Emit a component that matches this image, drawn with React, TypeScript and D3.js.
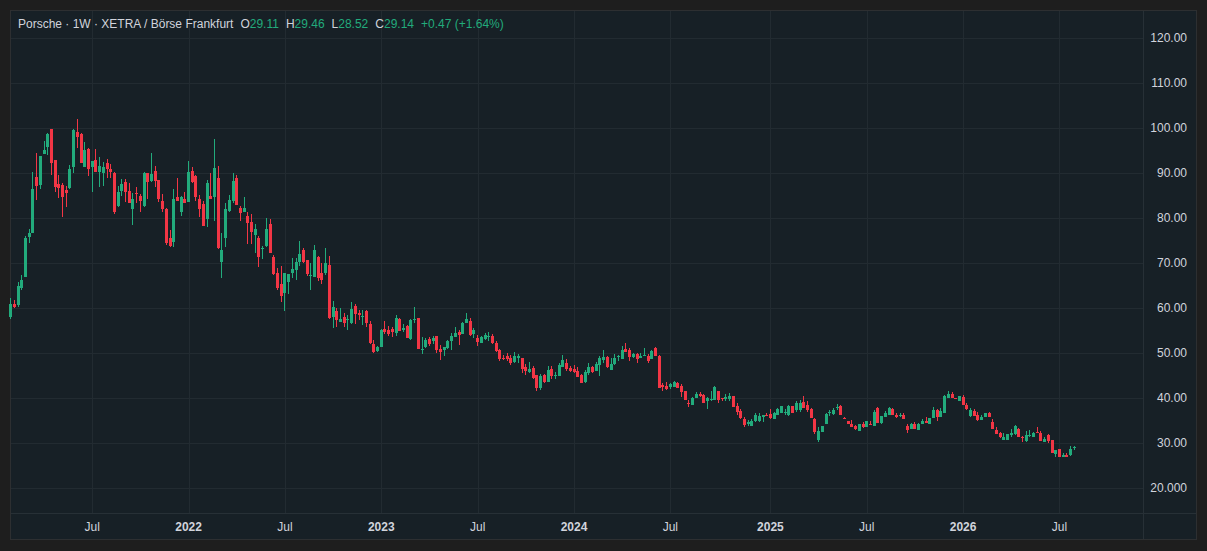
import * as d3 from "d3";

// weekly bars, first bar = week of 1 Feb 2021
const START = new Date(2021, 1, 1);

const OPEN = [
  58.0, 61.0, 60.7, 64.6, 67.0, 75.9, 76.8, 89.2, 87.4, 94.3,
  95.8, 99.9, 93.0, 87.6, 87.4, 86.3, 86.8, 91.3, 99.2, 98.7,
  91.5, 95.4, 91.3, 93.0, 90.4, 90.1, 92.2, 91.0, 90.0, 82.7,
  86.1, 88.1, 86.1, 82.0, 85.6, 85.0, 82.7, 90.0, 88.3, 90.5,
  88.5, 83.9, 82.1, 75.6, 74.8, 84.7, 81.5, 84.2, 83.7, 90.5,
  89.4, 84.3, 83.2, 79.8, 85.0, 84.8, 89.0, 70.4, 75.7, 81.6,
  83.9, 88.9, 82.4, 81.5, 80.5, 79.1, 76.3, 75.7, 73.1, 73.9,
  78.7, 71.5, 67.8, 65.4, 63.3, 65.9, 67.9, 68.5, 70.4, 73.0,
  70.7, 67.3, 67.0, 71.3, 67.9, 67.8, 69.6, 58.0, 59.3, 57.0,
  58.1, 57.3, 56.7, 60.5, 58.9, 58.2, 59.3, 56.5, 52.1, 50.6,
  51.5, 55.4, 55.2, 55.3, 54.6, 57.6, 55.2, 56.1, 53.1, 57.6,
  57.8, 50.7, 51.3, 53.1, 52.7, 53.9, 51.0, 50.7, 51.1, 52.8,
  53.7, 54.8, 54.4, 56.7, 57.2, 54.4, 53.5, 52.4, 53.1, 53.8,
  53.9, 52.4, 50.7, 49.0, 49.3, 48.9, 48.1, 49.0, 48.9, 46.9,
  45.9, 46.7, 45.2, 42.4, 45.2, 43.7, 46.5, 44.9, 45.0, 46.9,
  47.9, 46.8, 46.5, 46.1, 45.2, 43.7, 45.6, 47.0, 46.1, 47.4,
  48.5, 49.1, 46.4, 47.6, 49.1, 48.7, 51.0, 50.7, 49.1, 49.8,
  48.9, 49.5, 49.5, 48.7, 51.1, 49.4, 43.0, 42.8, 42.6, 42.6,
  43.5, 42.7, 41.6, 39.0, 38.5, 40.1, 40.9, 40.7, 39.3, 39.8,
  39.6, 41.6, 40.0, 39.9, 39.9, 40.5, 38.3, 37.2, 35.4, 34.4,
  33.9, 35.0, 35.0, 35.8, 36.3, 36.5, 35.4, 36.3, 36.8, 36.7,
  36.3, 38.3, 37.4, 37.3, 39.1, 38.5, 37.6, 35.4, 30.7, 32.6,
  34.3, 36.7, 36.5, 37.8, 38.3, 35.6, 35.0, 34.3, 33.9, 32.8,
  34.4, 33.7, 34.2, 33.9, 37.8, 34.6, 35.8, 36.4, 37.6, 36.4,
  36.3, 36.4, 33.9, 33.2, 34.3, 33.0, 34.2, 35.0, 34.4, 35.6,
  37.4, 35.9, 36.8, 40.0, 41.0, 40.0, 39.5, 40.2, 38.5, 36.1,
  37.2, 36.3, 35.2, 35.8, 36.8, 34.8, 33.0, 32.4, 30.7, 30.7,
  31.9, 32.0, 33.2, 31.5, 30.5, 31.7, 31.5, 32.6, 32.4, 30.4,
  31.9, 30.7, 27.6, 28.7, 26.9, 27.3, 27.4, 29.11,
];

const HIGH = [
  62.2, 61.9, 65.9, 67.4, 76.1, 77.6, 90.3, 94.6, 93.9, 97.2,
  99.0, 99.9, 93.0, 89.6, 87.9, 87.2, 91.9, 99.8, 102.1, 98.9,
  97.0, 95.6, 92.7, 95.4, 93.6, 92.6, 93.1, 92.1, 90.3, 87.2,
  88.7, 88.7, 87.9, 85.6, 87.0, 85.4, 90.2, 90.0, 94.6, 91.6,
  88.5, 85.4, 82.4, 77.4, 86.5, 88.9, 85.0, 85.9, 92.7, 91.4,
  89.6, 85.2, 83.9, 88.5, 90.1, 97.6, 91.6, 76.7, 83.3, 85.2,
  90.1, 89.6, 82.7, 84.8, 81.3, 81.0, 78.7, 76.1, 73.9, 80.1,
  79.9, 71.9, 69.0, 69.3, 67.8, 67.6, 71.1, 71.1, 75.0, 73.3,
  70.7, 70.0, 74.1, 71.6, 70.1, 73.5, 71.6, 61.6, 60.0, 60.1,
  59.0, 58.5, 61.3, 61.0, 59.6, 59.6, 59.6, 57.2, 53.0, 51.6,
  55.3, 57.2, 56.1, 55.9, 58.5, 57.8, 56.5, 56.3, 57.6, 60.2,
  57.8, 53.6, 53.5, 53.6, 53.9, 53.9, 51.9, 51.5, 53.0, 54.6,
  55.9, 55.2, 56.9, 59.0, 57.8, 55.7, 54.1, 53.9, 54.6, 54.8,
  54.3, 52.8, 51.0, 49.6, 50.1, 49.6, 50.2, 49.9, 48.9, 47.6,
  48.1, 47.2, 45.2, 45.4, 45.4, 47.2, 47.2, 45.9, 47.8, 49.6,
  48.7, 47.2, 47.4, 47.0, 45.4, 46.3, 47.8, 47.2, 48.1, 49.3,
  50.7, 49.3, 48.9, 49.9, 49.6, 51.6, 52.2, 51.1, 50.0, 50.0,
  50.0, 51.1, 49.9, 50.7, 51.3, 49.6, 43.3, 43.7, 43.3, 43.9,
  43.7, 43.2, 41.6, 39.6, 40.4, 41.3, 41.5, 40.9, 40.4, 41.6,
  42.7, 41.6, 40.1, 40.9, 41.1, 40.5, 38.9, 37.6, 35.8, 35.2,
  35.3, 36.8, 36.7, 36.3, 36.8, 37.6, 37.0, 37.8, 38.3, 37.6,
  38.5, 38.3, 39.3, 39.6, 40.5, 39.3, 37.8, 35.6, 33.7, 33.9,
  36.7, 37.4, 37.8, 38.7, 38.5, 35.9, 35.0, 35.2, 34.1, 34.4,
  34.8, 35.0, 35.0, 37.3, 38.1, 36.1, 37.2, 38.1, 37.9, 36.8,
  36.8, 36.7, 34.4, 34.6, 34.7, 34.6, 35.3, 35.8, 35.6, 38.0,
  37.6, 37.8, 40.7, 41.6, 41.3, 40.0, 40.5, 40.7, 38.9, 37.8,
  37.6, 36.9, 36.3, 36.8, 37.0, 35.3, 33.6, 32.6, 32.4, 32.1,
  33.1, 34.1, 33.3, 31.6, 32.7, 33.0, 32.6, 33.6, 32.8, 31.3,
  32.1, 30.7, 28.5, 28.7, 27.8, 27.9, 29.4, 29.46,
];

const LOW = [
  57.6, 60.0, 60.2, 64.1, 67.0, 74.6, 76.8, 84.1, 86.6, 94.3,
  94.1, 89.6, 85.9, 84.6, 80.4, 82.6, 86.5, 90.1, 95.6, 92.2,
  91.3, 89.3, 85.9, 90.4, 87.0, 87.2, 89.0, 88.9, 81.0, 82.6,
  85.0, 83.7, 83.3, 78.5, 83.5, 81.3, 82.6, 84.2, 88.1, 86.9,
  83.6, 81.3, 74.1, 73.6, 73.7, 83.9, 80.5, 83.5, 83.7, 87.8,
  83.9, 80.2, 78.4, 78.0, 84.4, 79.3, 73.1, 66.8, 73.7, 81.3,
  83.5, 83.0, 79.5, 81.3, 74.2, 74.4, 72.2, 69.1, 70.9, 73.6,
  72.2, 67.4, 64.1, 61.5, 59.3, 63.2, 66.7, 66.3, 69.3, 70.1,
  67.2, 64.1, 67.0, 66.1, 65.4, 67.4, 57.6, 55.6, 55.8, 56.9,
  55.9, 55.2, 56.5, 56.5, 57.4, 56.3, 55.8, 52.1, 50.0, 50.2,
  51.5, 54.4, 53.9, 53.7, 53.9, 55.0, 54.7, 53.3, 53.0, 56.7,
  51.0, 49.9, 51.1, 51.6, 52.0, 50.0, 48.5, 49.3, 50.9, 50.7,
  53.7, 51.9, 54.3, 56.7, 53.9, 53.3, 51.6, 52.2, 53.0, 52.8,
  52.1, 50.4, 48.4, 48.5, 48.4, 47.4, 47.9, 47.8, 45.7, 45.2,
  45.6, 44.4, 41.7, 41.9, 43.5, 43.7, 44.4, 44.2, 45.0, 46.9,
  46.1, 45.9, 45.6, 44.8, 43.3, 43.5, 45.2, 45.6, 46.1, 45.0,
  47.8, 46.7, 46.4, 47.4, 48.4, 48.7, 50.4, 48.4, 48.9, 47.8,
  48.9, 49.5, 47.8, 48.7, 49.5, 42.4, 41.7, 41.9, 42.0, 42.6,
  42.2, 40.4, 39.6, 38.1, 38.5, 40.0, 40.4, 39.0, 37.6, 39.4,
  39.6, 39.0, 39.4, 39.5, 39.5, 38.1, 36.4, 35.3, 33.6, 33.9,
  33.9, 34.8, 34.8, 34.8, 36.1, 35.3, 35.4, 36.3, 36.8, 36.3,
  36.1, 36.7, 36.9, 37.0, 37.8, 36.9, 35.7, 32.1, 30.4, 32.6,
  34.3, 36.1, 36.3, 37.3, 36.3, 35.3, 34.2, 33.7, 33.0, 32.8,
  33.3, 33.6, 34.1, 33.9, 34.6, 34.4, 35.8, 36.4, 36.3, 35.6,
  35.9, 35.3, 32.2, 33.2, 33.2, 33.0, 34.2, 34.6, 34.4, 35.6,
  35.0, 35.9, 36.8, 40.0, 40.0, 39.8, 39.5, 38.5, 37.4, 35.8,
  36.1, 35.0, 35.2, 35.8, 35.8, 33.2, 32.1, 31.1, 30.7, 30.7,
  31.5, 31.9, 31.3, 30.4, 30.4, 31.5, 31.5, 32.2, 30.6, 30.4,
  30.1, 27.8, 27.0, 27.0, 26.9, 27.0, 27.2, 28.52,
];

const CLOSE = [
  61.0, 60.2, 65.0, 66.3, 75.6, 76.7, 86.5, 87.2, 93.9, 95.2,
  98.7, 92.4, 87.0, 86.8, 84.8, 85.7, 90.9, 99.6, 98.1, 92.2,
  95.2, 91.0, 92.7, 90.4, 91.6, 91.3, 90.9, 90.4, 81.5, 85.9,
  87.6, 85.9, 83.3, 84.2, 85.5, 83.9, 90.0, 88.1, 89.8, 88.4,
  84.4, 82.0, 74.6, 73.9, 84.2, 83.9, 84.7, 83.5, 90.2, 88.0,
  84.8, 82.0, 78.4, 87.9, 84.4, 91.1, 73.3, 73.0, 82.1, 84.1,
  88.3, 83.0, 81.1, 82.4, 79.0, 77.0, 77.6, 71.3, 73.5, 77.6,
  72.2, 67.6, 64.6, 62.8, 67.8, 67.6, 68.7, 70.2, 72.1, 70.4,
  67.6, 67.4, 73.0, 66.8, 66.4, 70.1, 57.9, 60.4, 57.3, 57.6,
  56.8, 57.6, 59.9, 58.7, 58.6, 58.4, 56.7, 52.2, 50.4, 51.3,
  55.2, 54.7, 54.4, 54.7, 57.9, 55.0, 55.7, 53.5, 57.4, 57.7,
  51.0, 51.0, 53.0, 52.0, 53.3, 50.7, 50.4, 51.3, 52.8, 53.9,
  54.6, 54.1, 56.7, 57.6, 54.1, 55.2, 52.6, 53.7, 54.1, 53.9,
  52.4, 50.6, 48.7, 48.8, 48.7, 47.9, 49.3, 49.3, 46.5, 46.1,
  46.5, 44.6, 42.4, 45.0, 43.7, 46.3, 45.0, 45.1, 47.4, 48.5,
  46.5, 46.1, 45.9, 44.8, 43.5, 45.9, 46.9, 45.9, 47.6, 48.9,
  49.1, 46.9, 47.6, 48.9, 49.3, 50.7, 50.4, 49.1, 49.8, 48.7,
  49.5, 49.6, 48.4, 50.5, 49.5, 42.4, 42.6, 42.1, 43.1, 43.7,
  42.4, 41.3, 39.6, 38.9, 40.1, 41.0, 40.6, 39.0, 40.0, 39.9,
  42.6, 39.6, 39.8, 40.4, 40.5, 38.1, 37.0, 35.7, 34.1, 34.8,
  35.0, 36.3, 36.1, 36.3, 36.1, 35.6, 36.8, 37.6, 38.3, 36.9,
  38.4, 36.7, 38.9, 39.0, 37.9, 37.4, 35.7, 32.6, 32.7, 33.9,
  36.5, 36.9, 37.4, 38.1, 36.3, 35.3, 34.2, 33.7, 33.2, 34.3,
  33.7, 35.0, 34.1, 37.0, 34.6, 36.1, 36.8, 37.8, 36.3, 35.9,
  36.4, 35.3, 33.0, 34.3, 33.2, 34.3, 35.0, 34.6, 35.6, 37.4,
  35.8, 37.2, 40.5, 41.0, 40.0, 39.8, 40.5, 38.5, 37.6, 37.4,
  36.1, 35.2, 35.8, 36.8, 35.8, 33.2, 32.1, 31.3, 31.3, 32.1,
  32.4, 33.9, 31.3, 31.1, 31.9, 31.9, 32.4, 32.4, 30.6, 31.0,
  30.6, 27.8, 28.5, 27.0, 27.4, 27.0, 28.7, 29.14,
];

const PRICE_TICKS = [120, 110, 100, 90, 80, 70, 60, 50, 40, 30, 20];
const PRICE_LABELS = ["120.00", "110.00", "100.00", "90.00", "80.00", "70.00", "60.00", "50.00", "40.00", "30.00", "20.000"];
const MONTH_NAMES = ["Jan", "Feb", "Mar", "Apr", "May", "Jun", "Jul", "Aug", "Sep", "Oct", "Nov", "Dec"];

const TITLE = "Porsche · 1W · XETRA / Börse Frankfurt";
const LAST = { o: "29.11", h: "29.46", l: "28.52", c: "29.14", chg: "+0.47 (+1.64%)" };

const UP = "#22ab7c";
const DOWN = "#f23645";
const TEXT = "#d1d4dc";
const GRID = "#222b31";
const FONT = "'Liberation Sans', Arial, sans-serif";

export default function App() {
  const W = 1207, H = 551;
  const panel = { l: 10, t: 10, r: 1197, b: 540 };
  const plotR = 1143, plotB = 513;

  const dates = OPEN.map((_, i) => d3.timeWeek.offset(START, i));
  const x = d3.scaleTime().domain([dates[0], dates[dates.length - 1]]).range([10.7, 1074.3]);
  const y = d3.scaleLinear().domain([20, 120]).range([488.3, 38.3]);

  // half-year ticks at the first bar of Jan / Jul
  const ticks = dates
    .map((d, i) => ({ d, i }))
    .filter(({ d, i }) => i > 0 && d.getMonth() !== dates[i - 1].getMonth() && (d.getMonth() === 0 || d.getMonth() === 6))
    .map(({ d }) => ({ x: x(d), year: d.getMonth() === 0, label: d.getMonth() === 0 ? String(d.getFullYear()) : MONTH_NAMES[d.getMonth()] }));

  const bars = dates.map((d, i) => {
    const cx = x(d);
    const left = Math.round(cx - 1.5);
    const top = y(Math.max(OPEN[i], CLOSE[i]));
    const bot = y(Math.min(OPEN[i], CLOSE[i]));
    return {
      left,
      top,
      h: Math.max(1, bot - top),
      hi: y(HIGH[i]),
      lo: y(LOW[i]),
      color: CLOSE[i] >= OPEN[i] ? UP : DOWN,
    };
  });

  return (
    <svg width={W} height={H} style={{ position: "absolute", left: 0, top: 0, display: "block" }} fontFamily={FONT}>
      <rect width={W} height={H} fill="#1e1e1e" />
      <rect x={panel.l + 0.5} y={panel.t + 0.5} width={panel.r - panel.l - 1} height={panel.b - panel.t - 1} fill="#172026" stroke="#2d2f31" />

      {/* grid */}
      <g shapeRendering="crispEdges" stroke={GRID}>
        {PRICE_TICKS.map((p) => (
          <line key={p} x1={panel.l + 1} x2={plotR} y1={Math.round(y(p)) + 0.5} y2={Math.round(y(p)) + 0.5} />
        ))}
        {ticks.map((t) => (
          <line key={t.label + t.x} x1={Math.round(t.x) + 0.5} x2={Math.round(t.x) + 0.5} y1={panel.t + 1} y2={plotB} />
        ))}
        <line x1={plotR + 0.5} x2={plotR + 0.5} y1={panel.t + 1} y2={panel.b - 1} stroke="#273036" />
        <line x1={panel.l + 1} x2={panel.r - 1} y1={plotB + 0.5} y2={plotB + 0.5} stroke="#273036" />
      </g>

      {/* candles */}
      <g shapeRendering="crispEdges">
        {bars.map((b, i) => (
          <g key={i} fill={b.color}>
            <rect x={b.left + 1} y={b.hi} width={1} height={Math.max(1, b.lo - b.hi)} />
            <rect x={b.left} y={b.top} width={3} height={b.h} />
          </g>
        ))}
      </g>

      {/* price axis */}
      <g fill={TEXT} fontSize={12} textAnchor="end">
        {PRICE_TICKS.map((p, i) => (
          <text key={p} x={1187} y={y(p) + 4}>{PRICE_LABELS[i]}</text>
        ))}
      </g>

      {/* time axis */}
      <g fill={TEXT} fontSize={12} textAnchor="middle">
        {ticks.map((t) => (
          <text key={t.label + t.x} x={t.x} y={531} fontWeight={t.year ? "bold" : "normal"}>{t.label}</text>
        ))}
      </g>

      {/* legend */}
      <text x={18} y={28} fontSize={12} fill={TEXT}>
        {TITLE}
        <tspan dx={7}>O</tspan><tspan fill={UP}>{LAST.o}</tspan>
        <tspan dx={7}>H</tspan><tspan fill={UP}>{LAST.h}</tspan>
        <tspan dx={7}>L</tspan><tspan fill={UP}>{LAST.l}</tspan>
        <tspan dx={7}>C</tspan><tspan fill={UP}>{LAST.c}</tspan>
        <tspan dx={7} fill={UP}>{LAST.chg}</tspan>
      </text>
    </svg>
  );
}
